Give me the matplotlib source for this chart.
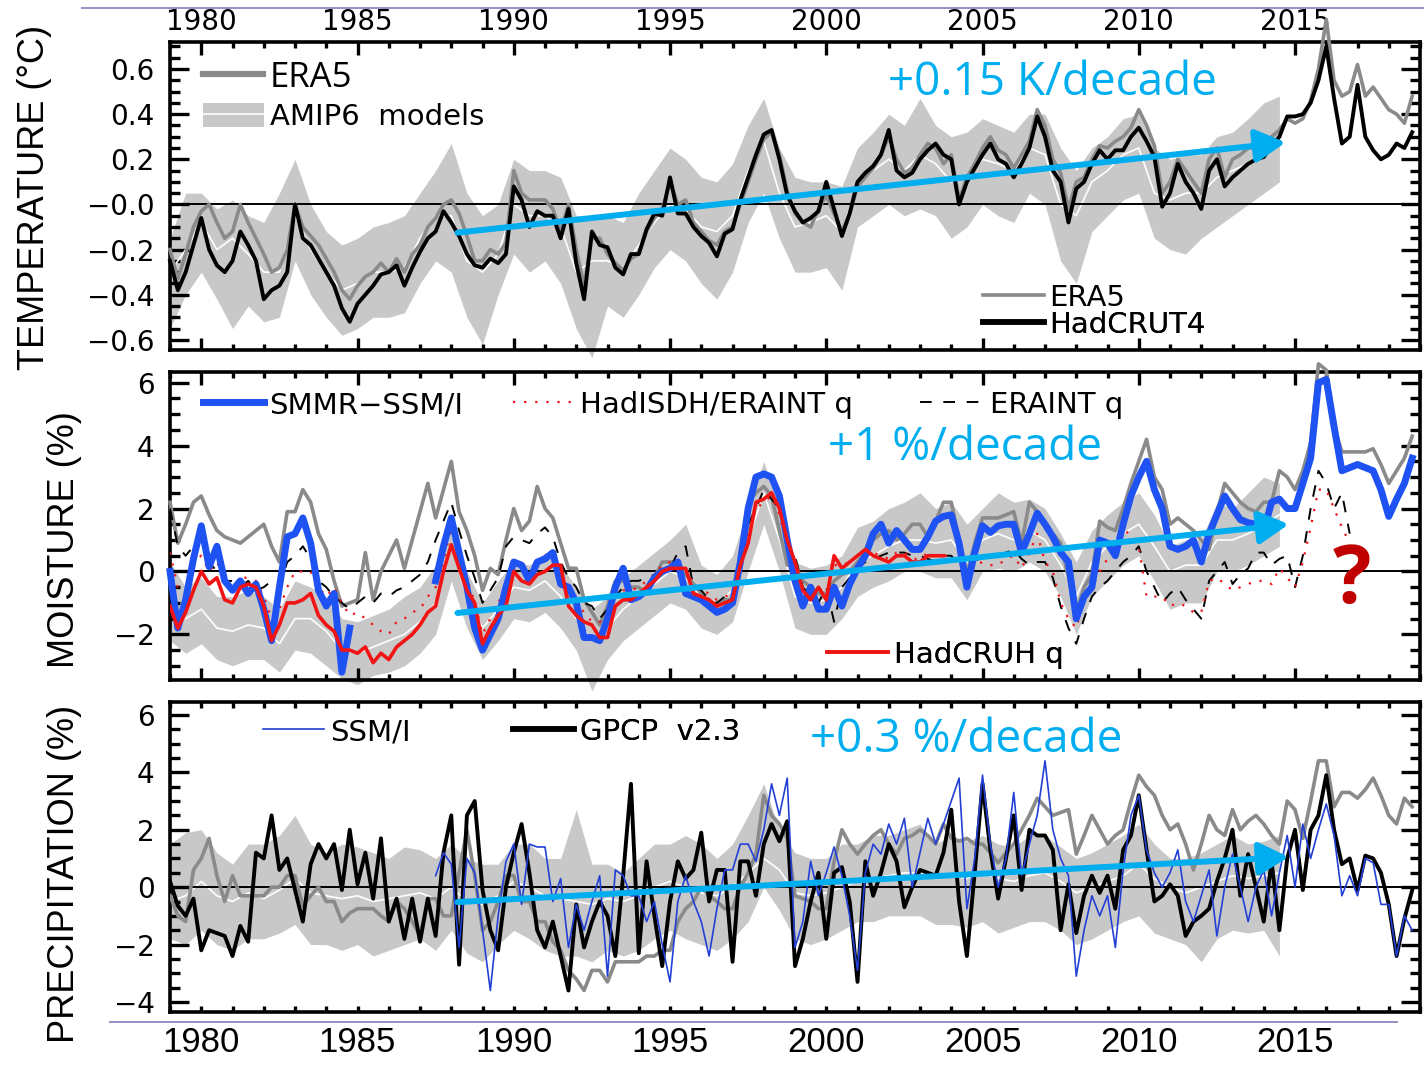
import numpy as np
import matplotlib
matplotlib.use('Agg')
import matplotlib.pyplot as plt
from matplotlib.patches import Patch
from matplotlib.lines import Line2D
from matplotlib.ticker import MultipleLocator, FixedLocator, FixedFormatter

nan = np.nan

# ---------------------------------------------------------------- time axes
t_q = np.arange(1979.0, 2019.0, 0.25)      # quarterly, 1979-2018
t_h = np.arange(1979.0, 2015.0, 0.5)       # half-yearly, AMIP6 runs (to 2014)
t_eri = np.arange(1979.0, 2017.0, 0.25)    # ERAINT / HadISDH
t_cruh = np.arange(1979.0, 2004.0, 0.25)   # HadCRUH
t_ssmi = np.arange(1987.5, 2019.0, 0.25)   # SSM/I precipitation

# ---------------------------------------------------------------- temperature (K)
temp_era5 = [
    -0.20, -0.33, -0.22, -0.10,  -0.03, 0.00, -0.08, -0.15,  -0.12, 0.00, -0.08, -0.15,
    -0.22, -0.30, -0.28, -0.20,  0.00, -0.10, -0.14, -0.18,  -0.24, -0.30, -0.38, -0.42,
    -0.36, -0.32, -0.30, -0.26,  -0.30, -0.24, -0.30, -0.22,  -0.18, -0.10, -0.06, 0.00,
    0.02, -0.04, -0.14, -0.25,  -0.25, -0.20, -0.22, -0.17,  0.15, 0.05, 0.02, 0.02,
    0.02, -0.02, -0.12, 0.00,  -0.20, -0.36, -0.15, -0.15,  -0.22, -0.26, -0.29, -0.24,
    -0.22, -0.12, -0.06, -0.02,  0.10, 0.00, 0.02, -0.08,  -0.12, -0.16, -0.18, -0.12,
    -0.10, 0.00, 0.10, 0.20,  0.29, 0.32, 0.22, 0.06,  -0.04, -0.08, -0.10, -0.02,
    0.04, -0.04, -0.12, -0.04,  0.08, 0.12, 0.16, 0.22,  0.30, 0.20, 0.14, 0.16,
    0.22, 0.27, 0.25, 0.18,  0.22, 0.02, 0.12, 0.18,  0.25, 0.30, 0.24, 0.22,
    0.16, 0.22, 0.28, 0.42,  0.35, 0.20, 0.14, -0.02,  0.10, 0.12, 0.20, 0.26,
    0.25, 0.28, 0.30, 0.34,  0.42, 0.35, 0.26, 0.05,  0.10, 0.20, 0.15, 0.10,
    0.05, 0.20, 0.25, 0.12,  0.20, 0.22, 0.25, 0.25,  0.26, 0.30, 0.33, 0.38,
    0.36, 0.38, 0.46, 0.60,  0.82, 0.55, 0.48, 0.50,  0.62, 0.48, 0.52, 0.47,
    0.42, 0.40, 0.36, 0.48,
]
temp_hadcrut4 = [
    -0.25, -0.38, -0.30, -0.18,  -0.06, -0.20, -0.27, -0.30,  -0.25, -0.12, -0.18, -0.25,
    -0.42, -0.38, -0.36, -0.30,  0.00, -0.15, -0.18, -0.24,  -0.30, -0.36, -0.46, -0.52,
    -0.44, -0.40, -0.36, -0.31,  -0.30, -0.27, -0.36, -0.28,  -0.21, -0.15, -0.12, -0.03,
    -0.08, -0.14, -0.22, -0.27,  -0.28, -0.24, -0.26, -0.22,  0.08, 0.02, -0.10, -0.03,
    -0.05, -0.05, -0.15, -0.02,  -0.26, -0.42, -0.12, -0.18,  -0.19, -0.28, -0.31, -0.22,
    -0.22, -0.11, -0.04, -0.05,  0.12, -0.04, -0.04, -0.10,  -0.14, -0.17, -0.23, -0.13,
    -0.11, 0.02, 0.12, 0.22,  0.31, 0.33, 0.20, 0.04,  -0.03, -0.08, -0.06, -0.03,
    0.10, -0.02, -0.14, -0.04,  0.10, 0.14, 0.17, 0.22,  0.33, 0.15, 0.12, 0.14,
    0.20, 0.24, 0.27, 0.22,  0.20, 0.00, 0.10, 0.16,  0.22, 0.27, 0.20, 0.18,
    0.12, 0.18, 0.25, 0.39,  0.30, 0.15, 0.10, -0.08,  0.07, 0.10, 0.18, 0.24,
    0.20, 0.24, 0.24, 0.30,  0.34, 0.28, 0.21, -0.01,  0.05, 0.18, 0.10, 0.05,
    -0.02, 0.15, 0.20, 0.08,  0.12, 0.15, 0.18, 0.20,  0.21, 0.26, 0.30, 0.39,
    0.39, 0.40, 0.45, 0.55,  0.70, 0.47, 0.27, 0.30,  0.53, 0.30, 0.24, 0.20,
    0.22, 0.27, 0.25, 0.32,
]
temp_amip_mean = [
    -0.30, -0.20, -0.08, -0.20, -0.15, -0.22, -0.30, -0.30, -0.05, -0.20, -0.30, -0.38,
    -0.35, -0.30, -0.30, -0.28, -0.15, -0.05, -0.05, -0.25, -0.30, -0.22, 0.00, -0.05,
    -0.05, -0.10, -0.30, -0.25, -0.25, -0.28, -0.18, -0.08, 0.00, -0.02, -0.10, -0.12,
    -0.05, 0.15, 0.28, 0.05, -0.10, -0.08, -0.05, -0.12, 0.08, 0.15, 0.20, 0.15,
    0.22, 0.18, 0.10, 0.12, 0.20, 0.18, 0.15, 0.25, 0.22, 0.00, -0.05, 0.10,
    0.15, 0.22, 0.25, 0.05, 0.02, 0.05, 0.05, 0.12, 0.15, 0.18, 0.25, 0.30,
]
temp_amip_hi = [
    -0.15, 0.05, 0.05, -0.02, 0.02, -0.05, -0.08, 0.05, 0.20, 0.00, -0.12, -0.18,
    -0.15, -0.10, -0.08, -0.05, 0.05, 0.15, 0.27, 0.05, -0.05, 0.00, 0.20, 0.15,
    0.15, 0.12, -0.05, -0.05, -0.05, -0.08, 0.05, 0.15, 0.25, 0.20, 0.12, 0.10,
    0.18, 0.35, 0.47, 0.25, 0.12, 0.10, 0.10, 0.08, 0.25, 0.32, 0.40, 0.35,
    0.47, 0.35, 0.30, 0.32, 0.38, 0.35, 0.32, 0.40, 0.40, 0.25, 0.15, 0.25,
    0.30, 0.38, 0.40, 0.25, 0.20, 0.22, 0.22, 0.30, 0.32, 0.38, 0.45, 0.48,
]
temp_amip_lo = [
    -0.55, -0.40, -0.30, -0.42, -0.55, -0.45, -0.52, -0.50, -0.25, -0.40, -0.50, -0.58,
    -0.55, -0.50, -0.50, -0.48, -0.35, -0.25, -0.30, -0.50, -0.62, -0.40, -0.22, -0.30,
    -0.25, -0.35, -0.55, -0.68, -0.45, -0.50, -0.40, -0.28, -0.20, -0.25, -0.35, -0.42,
    -0.30, -0.08, 0.05, -0.15, -0.30, -0.30, -0.28, -0.38, -0.10, -0.05, 0.00, -0.05,
    -0.02, -0.05, -0.15, -0.10, 0.00, -0.05, -0.08, 0.05, 0.00, -0.25, -0.35, -0.12,
    -0.05, 0.02, 0.05, -0.15, -0.20, -0.22, -0.15, -0.10, -0.05, 0.00, 0.05, 0.10,
]
temp_yticks = [-0.6, -0.4, -0.2, 0.0, 0.2, 0.4, 0.6]
temp_ylabels = ['\u22120.6', '\u22120.4', '\u22120.2', '\u22120.0', '0.2', '0.4', '0.6']
temp_trend = (1988.2, -0.125, 2014.7, 0.275)

# ---------------------------------------------------------------- moisture (%)
moist_smmr_ssmi = [
    0.0, -1.8, -0.9, 0.4,  1.45, 0.15, 0.8, -0.3,  -0.6, -0.3, -0.7, -0.4,
    -1.2, -2.2, -0.5, 1.1,  1.2, 1.7, 0.9, -0.6,  -1.1, -0.7, -3.2, -1.8,
    nan, nan, nan, nan,  nan, nan, nan, nan,  nan, nan, -0.3, 0.8,
    1.7, 0.6, -0.5, -1.8,  -2.5, -2.0, -1.5, -0.5,  0.3, 0.2, -0.3, 0.3,
    0.4, 0.6, -0.4, -0.5,  -1.0, -2.1, -2.1, -2.2,  -1.5, -0.5, 0.1, -0.9,
    -0.8, -0.6, -0.2, 0.0,  0.1, 0.3, -0.7, -0.8,  -0.9, -1.1, -1.3, -1.2,
    -1.0, 0.3, 2.0, 3.0,  3.1, 3.0, 2.4, 1.0,  -0.3, -1.1, -0.5, -1.2,
    -1.2, -0.5, -1.1, -0.4,  0.1, 0.5, 1.2, 1.5,  0.9, 1.3, 1.0, 0.7,
    0.7, 1.1, 1.6, 1.75,  1.8, 0.9, -0.5, 0.6,  1.45, 1.24, 1.45, 1.5,
    1.5, 0.6, 1.2, 1.85,  1.5, 1.1, 0.6, 0.3,  -1.5, -0.8, -0.5, 1.0,
    0.9, 0.5, 1.5, 2.4,  3.0, 3.5, 2.6, 2.0,  0.8, 0.7, 0.8, 1.0,
    0.3, 1.2, 1.8, 2.4,  2.0, 1.65, 1.55, 1.5,  1.3, 2.2, 2.3, 2.0,
    2.0, 2.8, 3.6, 6.0,  6.1, 4.6, 3.2, 3.3,  3.4, 3.3, 3.2, 2.6,
    1.75, 2.3, 2.8, 3.6,
]
moist_era5 = [
    2.2, 0.9, 1.5, 2.2,  2.4, 1.8, 1.3, 1.1,  1.0, 0.9, 1.1, 1.3,
    1.5, 0.8, 0.3, 1.9,  1.9, 2.6, 2.2, 1.2,  0.7, -0.3, -1.1, -1.0,
    -0.9, 0.6, -0.9, 0.0,  0.5, 1.0, 0.1, 1.0,  1.9, 2.8, 1.7, 2.6,
    3.5, 1.9, 1.3, 0.5,  -0.6, 0.1, -0.1, 1.0,  2.0, 1.3, 1.6, 2.7,
    2.0, 1.7, 0.9, 0.1,  0.1, -0.9, -1.3, -1.7,  -1.1, -0.3, -0.3, -0.5,
    -0.5, -0.7, -0.2, 0.3,  0.3, 0.3, -0.1, -0.4,  -0.7, -1.1, -1.1, -0.9,
    -0.9, 0.3, 2.2, 2.5,  2.7, 2.4, 1.3, 0.2,  0.2, -0.3, -0.5, -0.7,
    -0.7, -0.3, -0.1, 0.0,  0.3, 0.6, 1.0, 1.2,  1.3, 1.0, 1.2, 1.5,
    1.5, 1.1, 1.6, 2.2,  2.2, 1.0, -0.1, 0.9,  1.7, 1.7, 1.7, 1.8,
    1.9, 0.9, 2.2, 1.9,  1.5, 1.2, 0.9, -0.2,  -1.3, -0.5, -0.1, 1.6,
    1.4, 1.3, 2.0, 2.8,  3.5, 4.2, 3.0, 2.6,  1.5, 1.7, 1.5, 1.3,
    1.0, 0.7, 1.85, 2.8,  2.5, 2.2, 2.0, 1.9,  2.2, 2.2, 3.2, 3.0,
    2.6, 3.2, 4.1, 6.6,  6.4, 4.6, 3.8, 3.8,  3.8, 3.8, 3.9, 3.4,
    2.8, 3.2, 3.6, 4.3,
]
moist_eraint = [
    2.0, 0.8, 0.5, 0.8,  1.0, 0.3, 0.0, -0.3,  -0.3, -0.5, -0.3, -0.6,
    -0.5, -0.3, -0.5, 0.3,  0.5, 0.8, 0.4, -0.3,  -0.5, -0.8, -1.0, -1.2,
    -1.0, -0.8, -1.0, -0.7,  -0.8, -0.6, -0.5, -0.3,  -0.1, 0.3, 1.0, 1.6,
    2.2, 1.3, 0.5, -0.2,  -1.0, -0.6, -0.2, 0.8,  1.1, 1.0, 0.9, 1.2,
    1.4, 1.1, 0.3, -0.2,  -0.5, -1.0, -1.1, -1.5,  -1.2, -0.8, -0.5, -0.3,
    -0.3, -0.2, -0.1, 0.1,  0.1, 0.6, 0.8, -0.5,  -0.6, -0.9, -1.0, -0.8,
    -0.8, 0.3, 1.5, 2.0,  2.6, 2.3, 2.0, 1.0,  0.5, -0.5, -0.8, -1.0,
    -0.5, -1.6, -0.5, -0.2,  0.1, 0.3, 0.4, 0.5,  0.6, 0.6, 0.6, 0.5,
    0.5, 0.4, 0.3, 0.5,  0.5, 0.2, 0.0, 0.3,  0.5, 0.5, 0.5, 0.6,
    0.7, 0.4, 0.2, 0.3,  0.3, -0.2, -1.1, -1.8,  -2.3, -1.5, -0.8, -0.5,
    -0.3, 0.0, 0.3, 0.5,  0.8, 0.0, -0.5, -1.0,  -0.7, -0.5, -0.9, -1.2,
    -1.5, -0.3, 0.0, 0.3,  -0.4, -0.1, 0.1, 0.6,  0.6, 0.2, 0.4, 0.5,
    -0.5, 0.5, 2.0, 3.2,  2.8, 2.0, 2.5, 1.2,
]
moist_hadisdh = [
    0.6, -0.5, -0.5, 0.3,  0.5, 0.0, 0.3, -0.2,  -0.5, -0.2, -0.2, -0.3,
    -0.8, -1.5, -1.2, -0.5,  0.0, 0.0, 0.0, -0.5,  -0.8, -0.5, -1.0, -1.4,
    -1.3, -1.5, -1.7, -1.9,  -2.0, -1.6, -1.5, -1.3,  -1.2, -0.8, -0.5, 0.3,
    1.4, 0.5, -0.2, -1.0,  -2.0, -1.5, -1.0, -0.5,  0.3, 0.0, 0.0, 0.2,
    0.4, 0.5, 0.0, -0.9,  -1.0, -1.3, -1.6, -1.6,  -1.6, -0.8, -0.6, -0.6,
    -0.5, -0.3, -0.1, 0.2,  0.3, 0.4, 0.1, -0.4,  -0.6, -0.7, -0.9, -0.8,
    -0.7, 0.3, 1.2, 2.0,  2.2, 2.4, 1.8, 0.8,  0.2, -0.5, -0.7, -0.5,
    -0.8, 0.2, 0.2, 0.3,  0.5, 0.6, 0.6, 0.5,  0.4, 0.6, 0.6, 0.4,
    0.4, 0.6, 0.5, 0.5,  0.5, 0.2, 0.0, 0.2,  0.3, 0.2, 0.2, 0.4,
    0.5, 0.1, 0.6, 1.2,  0.3, 0.0, -1.0, -1.5,  -1.8, -0.9, -0.5, 0.0,
    0.4, 0.9, 1.4, 1.1,  0.8, -0.8, -0.8, -0.8,  -1.1, -1.0, -1.1, -1.3,
    -1.3, -0.3, -0.2, -0.4,  -0.6, -0.5, -0.4, -0.3,  -0.3, -0.4, 0.1, -0.2,
    -0.5, 0.3, 1.4, 2.6,  2.6, 2.0, 1.4, 0.9,
]
moist_hadcruh = [
    -1.1, -1.8, -1.3, -0.6,  0.0, -0.4, -0.2, -0.9,  -1.0, -0.5, -0.4, -0.5,
    -1.1, -2.2, -1.7, -1.0,  -1.0, -0.9, -0.7, -1.4,  -1.7, -1.9, -2.5, -2.5,
    -2.6, -2.4, -2.9, -2.6,  -2.8, -2.4, -2.2, -2.0,  -1.7, -1.3, -1.1, 0.0,
    0.85, 0.1, -0.6, -1.0,  -2.3, -1.8, -1.4, -1.1,  0.0, -0.3, -0.4, -0.1,
    0.0, 0.2, 0.2, -1.1,  -1.4, -1.6, -1.7, -2.1,  -2.1, -1.1, -0.9, -0.9,
    -0.7, -0.5, -0.3, 0.0,  0.1, 0.1, 0.1, -0.7,  -0.8, -0.9, -1.1, -1.0,
    -0.9, 0.2, 0.9, 2.2,  2.3, 2.5, 2.0, 1.0,  0.3, -0.6, -0.9, -0.5,
    -0.9, 0.5, 0.1, 0.3,  0.5, 0.7, 0.5, 0.4,  0.3, 0.5, 0.5, 0.3,
    0.3, 0.5, 0.5, 0.5,
]
moist_amip_mean = [
    -1.0, -1.5, -1.2, -1.8, -1.9, -1.7, -1.8, -2.3, -1.5, -1.5, -1.9, -2.5,
    -2.6, -2.4, -2.2, -2.0, -1.6, -1.0, 0.8, -0.8, -1.8, -1.2, -0.5, -0.6,
    -0.3, -0.8, -1.5, -2.2, -1.8, -1.2, -0.8, -0.4, 0.0, -0.2, -0.8, -1.0,
    -0.6, 1.0, 2.5, 1.0, -0.8, -1.0, -0.9, -0.5, 0.3, 0.5, 0.8, 1.0,
    1.0, 0.9, 1.0, 0.3, 1.0, 1.2, 1.0, 1.3, 1.0, 0.2, -0.8, 0.3,
    0.8, 1.2, 1.5, 0.8, 0.0, 0.2, 0.2, 1.0, 1.0, 1.2, 1.5, 1.8,
]
moist_amip_hi = [
    0.3, -0.5, -0.2, -0.8, -0.8, -0.6, -0.8, -1.2, -0.3, -0.5, -0.8, -1.5,
    -1.6, -1.4, -1.2, -0.8, -0.5, 0.2, 1.5, 0.0, -1.0, -0.3, 0.3, 0.2,
    0.6, 0.2, -0.5, -1.2, -0.8, -0.2, 0.2, 0.6, 1.0, 1.5, 0.2, -0.1,
    0.5, 2.0, 3.5, 2.0, 0.3, 0.1, 0.2, 0.5, 1.4, 1.6, 2.0, 2.2,
    2.5, 2.0, 2.2, 1.5, 2.0, 2.5, 2.2, 2.3, 2.0, 1.2, 0.3, 1.3,
    1.8, 2.2, 2.5, 1.8, 0.8, 1.0, 1.0, 2.2, 2.0, 2.5, 3.0, 2.8,
]
moist_amip_lo = [
    -2.2, -2.6, -2.3, -2.8, -3.0, -2.8, -2.8, -3.2, -2.5, -2.6, -3.0, -3.4,
    -3.6, -3.3, -3.2, -3.0, -2.6, -2.0, -0.3, -1.8, -2.8, -2.2, -1.5, -1.6,
    -1.3, -1.8, -2.5, -3.8, -2.8, -2.2, -1.8, -1.4, -1.0, -1.2, -1.8, -2.0,
    -1.6, 0.0, 1.5, 0.0, -1.8, -2.0, -2.0, -1.5, -0.8, -0.5, -0.3, 0.0,
    0.0, -0.2, -0.2, -0.9, 0.0, 0.1, 0.0, 0.3, 0.0, -0.8, -2.0, -0.8,
    -0.3, 0.2, 0.5, -0.3, -1.2, -1.0, -1.0, 0.0, 0.0, 0.2, 0.5, 0.8,
]
moist_yticks = [-2, 0, 2, 4, 6]
moist_ylabels = ['\u22122', '0', '2', '4', '6']
moist_trend = (1988.2, -1.32, 2014.8, 1.5)

# ---------------------------------------------------------------- precipitation (%)
prec_gpcp = [
    0.2, -0.65, -1.0, -0.4,  -2.2, -1.5, -1.6, -1.7,  -2.4, -1.35, -1.9, 1.2,
    1.0, 2.5, 0.6, 1.0,  -0.1, -1.2, 0.8, 1.5,  1.0, 1.5, -0.1, 2.0,
    0.1, 1.2, -0.4, 1.7,  -1.2, -0.4, -1.8, -0.4,  -1.9, -0.4, -1.7, 1.2,
    2.5, -2.7, 2.5, 3.0,  -0.1, -1.5, -2.2, 0.0,  1.2, 2.2, 0.5, -1.5,
    -2.1, -1.2, -2.4, -3.6,  -0.6, -2.1, -1.2, -0.5,  -1.0, -2.4, 0.4, 3.6,
    -2.3, 0.9, -1.0, -2.75,  -0.5, 0.9, 0.3, 0.6,  1.9, -0.5, 0.6, 0.6,
    -2.6, 0.9, 0.9, -0.3,  1.5, 2.2, 1.6, 2.3,  -2.75, -1.8, -0.5, 0.5,
    -1.8, 0.5, 0.7, -0.5,  -3.3, 0.9, -0.3, 0.5,  1.5, 0.9, -0.7, 0.0,
    0.6, 0.5, 0.4, 1.2,  2.7, -0.5, -2.4, 0.5,  3.6, 1.3, -0.4, 1.0,
    2.5, -0.1, 2.0, 1.8,  1.8, 1.3, -1.5, 0.1,  -1.6, -0.3, 0.4, -0.2,
    0.4, -0.75, 1.3, 1.8,  3.2, 1.3, -0.5, -0.3,  0.1, -0.3, -1.7, -1.2,
    -1.0, -0.75, 0.2, 1.0,  2.0, -0.3, 1.15, 0.0,  -1.2, 0.9, -1.5, 1.0,
    2.0, -0.1, 2.0, 2.5,  3.9, 2.0, 0.8, 1.0,  -0.1, 1.1, 1.0, 0.5,
    -0.6, -2.4, -1.1, -0.1,
]
prec_era5 = [
    -0.3, -1.0, -1.2, 0.6,  1.0, 1.7, 0.4, -0.5,  0.4, -0.3, -0.3, -0.3,
    -0.3, 0.0, 0.0, 0.4,  0.4, -0.65, -0.3, 0.0,  -0.5, -0.5, -1.2, -0.9,
    -0.75, -0.75, -0.75, -1.0,  -1.2, -0.5, -0.75, -1.2,  -1.7, -0.4, -0.4, -1.0,
    -1.0, 0.5, 2.0, 0.4,  -1.5, -1.2, -0.5, 0.4,  0.4, -0.5, -0.5, -1.2,
    -1.2, -1.9, -2.2, -2.9,  -3.2, -3.6, -2.9, -2.9,  -3.3, -2.6, -2.6, -2.6,
    -2.6, -2.4, -2.4, -2.2,  -2.2, -1.2, -0.75, -0.5,  0.0, -0.3, -0.5, -0.75,
    -0.75, 0.0, 0.5, 1.15,  3.2, 2.5, 2.2, 1.7,  -0.3, -0.4, -0.5, -0.75,
    -0.75, 0.9, 2.0, 1.5,  1.15, 1.5, 1.8, 2.0,  1.5, 1.15, 1.7, 1.8,
    2.0, 1.8, 1.5, 2.2,  1.7, 1.6, 1.7, 1.5,  1.5, 1.2, 0.85, 1.2,
    1.5, 2.0, 2.5, 3.1,  2.8, 2.5, 2.6, 2.7,  1.15, 1.8, 2.5, 2.0,
    1.5, 1.8, 2.0, 3.0,  3.9, 3.5, 3.2, 2.5,  2.0, 2.2, 1.5, 0.6,
    1.5, 2.5, 2.0, 1.8,  2.7, 2.0, 2.3, 2.5,  2.2, 1.8, 1.5, 3.0,
    2.7, 1.7, 3.0, 4.4,  4.4, 2.8, 3.3, 3.3,  3.1, 3.4, 3.8, 3.2,
    2.5, 2.2, 3.1, 2.8,
]
prec_ssmi = [
    0.4, 1.2,
    0.8, -2.1, 1.0, 0.5,  -1.5, -3.6, -1.0, 0.9,  1.5, -0.6, 1.5, 1.4,
    1.4, -0.5, 0.3, -2.1,  -0.6, -1.5, -0.5, 0.4,  -3.1, 0.6, 0.4, -0.3,
    -0.3, -1.2, -0.5, -2.0,  -3.3, -0.5, 0.4, -0.5,  -1.2, -2.4, -0.75, 0.6,
    0.6, 1.5, 1.5, 0.9,  2.0, 3.6, 2.5, 3.8,  -2.1, -1.2, 0.9, -0.3,
    0.5, 1.4, 0.4, -1.0,  -2.9, 0.5, 1.5, 1.15,  2.2, 1.5, 2.4, 0.0,
    1.2, 2.4, 1.5, 2.2,  3.0, 3.8, -0.75, 1.0,  3.9, 1.5, 0.0, 1.0,
    3.3, 0.4, 1.5, 2.5,  4.4, 2.0, 1.0, 0.4,  -3.1, -1.5, -0.3, -1.0,
    -0.3, -2.1, 0.6, 2.5,  3.2, 1.3, 0.5, 0.0,  0.5, 1.3, -0.5, -1.2,
    -0.3, 0.6, -1.7, 0.0,  1.15, 0.0, -1.2, 0.0,  0.6, -1.0, 0.5, 1.8,
    0.0, 2.2, 1.0, 2.0,  2.9, 1.8, -0.3, 0.4,  -0.3, 1.0, 0.85, -0.6,
    -0.6, -2.4, -1.0, -1.5,
]
prec_amip_mean = [
    -0.5, -0.3, 0.2, -0.3, -0.5, -0.2, -0.4, -0.1, 0.3, -0.2, -0.3, -0.4,
    -0.3, -0.5, -0.4, -0.3, -0.2, -0.4, 0.0, -0.5, -0.6, -0.3, 0.2, 0.0,
    -0.3, -0.4, -0.5, -0.6, -0.4, -0.5, -0.3, 0.0, 0.2, 0.0, -0.2, -0.3,
    0.0, 0.5, 1.0, 0.6, -0.2, -0.3, -0.2, 0.0, 0.2, 0.3, 0.4, 0.5,
    0.5, 0.3, 0.4, 0.3, 0.5, 0.3, 0.2, 0.4, 0.5, 0.2, -0.2, 0.0,
    0.2, 0.4, 0.8, 0.3, 0.0, -0.2, 0.0, 0.2, 0.4, 0.3, 0.4, 0.5,
]
prec_amip_hi = [
    1.5, 1.9, 2.0, 1.2, 0.8, 1.5, 1.5, 1.8, 2.5, 1.5, 1.2, 1.5,
    1.4, 1.2, 1.0, 1.4, 1.3, 1.0, 1.5, 1.0, 0.8, 0.8, 1.5, 1.5,
    1.0, 1.0, 2.7, 0.8, 0.8, 0.5, 1.0, 1.5, 1.5, 1.8, 1.5, 1.0,
    1.5, 2.5, 3.6, 2.0, 1.2, 1.0, 1.0, 1.5, 1.5, 1.8, 1.8, 2.0,
    2.2, 1.5, 1.8, 1.6, 1.8, 1.5, 1.4, 1.8, 1.8, 1.4, 1.0, 1.2,
    1.5, 1.8, 2.2, 1.5, 1.0, 1.0, 1.2, 1.5, 1.8, 1.5, 1.6, 1.8,
]
prec_amip_lo = [
    -1.8, -2.0, -1.5, -2.0, -2.2, -1.8, -1.8, -1.6, -1.3, -2.0, -2.0, -2.2,
    -2.0, -2.4, -2.2, -2.0, -1.8, -2.2, -1.5, -2.3, -2.6, -2.0, -1.5, -1.8,
    -2.2, -2.4, -2.4, -2.6, -2.2, -2.4, -2.2, -1.8, -1.5, -1.8, -2.0, -2.2,
    -1.8, -1.2, 0.0, -0.8, -1.8, -2.0, -1.8, -1.5, -1.2, -1.2, -1.0, -1.0,
    -1.0, -1.3, -1.3, -1.4, -1.2, -1.6, -1.4, -1.2, -1.2, -1.5, -2.0, -1.8,
    -1.5, -1.2, -1.0, -1.6, -1.8, -2.0, -2.6, -1.8, -1.5, -1.6, -1.5, -2.4,
]
prec_yticks = [-4, -2, 0, 2, 4, 6]
prec_ylabels = ['\u22124', '\u22122', '0', '2', '4', '6']
prec_trend = (1988.2, -0.52, 2014.8, 1.05)

year_ticks = [1980, 1985, 1990, 1995, 2000, 2005, 2010, 2015]
year_labels = [str(y) for y in year_ticks]

# ---------------------------------------------------------------- style
BAND = '#c8c8c8'
GRAY = '#8a8a8a'
BLUE = '#1f52f2'
BLUE_THIN = '#2340d6'
RED = '#f01414'
TREND = '#00aeef'
NARROW = ['DejaVu Sans Condensed', 'Liberation Sans']
plt.rcParams['font.family'] = 'DejaVu Sans'


def style_axis(ax, ylim, yticks, ylabels, yminor):
    ax.set_xlim(1979, 2019)
    ax.set_ylim(*ylim)
    ax.set_xticks(year_ticks)
    ax.xaxis.set_minor_locator(MultipleLocator(1))
    ax.yaxis.set_major_locator(FixedLocator(yticks))
    ax.yaxis.set_major_formatter(FixedFormatter(ylabels))
    ax.yaxis.set_minor_locator(MultipleLocator(yminor))
    ax.tick_params(which='both', direction='in', top=True, right=True,
                   width=2.4, labelbottom=False, labelsize=20, colors='black')
    ax.tick_params(axis='y', which='major', length=14, pad=11)
    ax.tick_params(axis='y', which='minor', length=7)
    ax.tick_params(axis='x', which='major', length=9)
    ax.tick_params(axis='x', which='minor', length=4)
    for s in ax.spines.values():
        s.set_linewidth(2.6)
    ax.axhline(0, color='black', lw=1.4, zorder=2.5)


def key(ax, handle, label, x, y, size=21, family='DejaVu Sans', hl=2.1):
    leg = ax.legend([handle], [label], loc='center left', bbox_to_anchor=(x, y),
                    frameon=False, handlelength=hl, handletextpad=0.2,
                    handleheight=0.9, borderpad=0, borderaxespad=0,
                    prop={'family': family, 'size': size})
    ax.add_artist(leg)


def trend(ax, tr, label, tx, ty):
    ax.annotate('', xy=(tr[2], tr[3]), xytext=(tr[0], tr[1]), zorder=8,
                arrowprops=dict(arrowstyle='-|>,head_length=1.0,head_width=0.55',
                                color=TREND, lw=4.3, mutation_scale=18,
                                shrinkA=0, shrinkB=0))
    ax.text(tx, ty, label, transform=ax.transAxes, color=TREND, fontsize=33,
            family='Open Sans', ha='left', va='center', zorder=9)


fig = plt.figure(figsize=(14.24, 10.68), dpi=100)
fig.patch.set_facecolor('white')
ax1 = fig.add_axes([0.1194, 0.6723, 0.8778, 0.2884])
ax2 = fig.add_axes([0.1194, 0.3633, 0.8778, 0.2884])
ax3 = fig.add_axes([0.1194, 0.0524, 0.8778, 0.2903])

# ---- temperature
ax1.fill_between(t_h, temp_amip_lo, temp_amip_hi, color=BAND, lw=0, zorder=1, clip_on=False)
ax1.plot(t_h, temp_amip_mean, color='white', lw=1.2, zorder=2)
ax1.plot(t_q, temp_era5, color=GRAY, lw=2.6, zorder=3, clip_on=False)
ax1.plot(t_q, temp_hadcrut4, color='black', lw=2.8, zorder=4, clip_on=False)
style_axis(ax1, (-0.645, 0.72), temp_yticks, temp_ylabels, 0.05)
ax1.tick_params(axis='x', labeltop=True, pad=4)
ax1.set_xticklabels(year_labels, fontsize=20)
key(ax1, Line2D([], [], color=GRAY, lw=4.5), 'ERA5', 0.026, 0.883,
    size=25, family='Open Sans', hl=1.73)
key(ax1, (Patch(facecolor=BAND, edgecolor='none'), Line2D([], [], color='white', lw=1.2)),
    'AMIP6  models', 0.026, 0.756)
key(ax1, Line2D([], [], color=GRAY, lw=2.6), 'ERA5', 0.650, 0.169)
key(ax1, Line2D([], [], color='black', lw=4), 'HadCRUT4', 0.650, 0.081)
trend(ax1, temp_trend, '+0.15 K/decade', 0.574, 0.867)

# ---- moisture
ax2.fill_between(t_h, moist_amip_lo, moist_amip_hi, color=BAND, lw=0, zorder=1, clip_on=False)
ax2.plot(t_h, moist_amip_mean, color='white', lw=1.2, zorder=2)
ax2.plot(t_q, moist_era5, color=GRAY, lw=2.6, zorder=3, clip_on=False)
l_ei, = ax2.plot(t_eri, moist_eraint, color='black', lw=1.4, ls=(0, (6, 6)), zorder=4)
l_hi, = ax2.plot(t_eri, moist_hadisdh, color=RED, lw=1.6, ls=(0, (1, 4)), zorder=4)
l_sm, = ax2.plot(t_q, moist_smmr_ssmi, color=BLUE, lw=5, zorder=5, clip_on=False)
l_cr, = ax2.plot(t_cruh, moist_hadcruh, color=RED, lw=2.6, zorder=6)
style_axis(ax2, (-3.45, 6.34), moist_yticks, moist_ylabels, 0.5)
key(ax2, l_sm, 'SMMR\u2212SSM/I', 0.026, 0.893)
key(ax2, l_hi, 'HadISDH/ERAINT q', 0.274, 0.893)
key(ax2, l_ei, 'ERAINT q', 0.600, 0.893, hl=2.2)
key(ax2, l_cr, 'HadCRUH q', 0.5256, 0.081)
trend(ax2, moist_trend, '+1 %/decade', 0.526, 0.753)
ax2.text(0.9456, 0.318, '?', transform=ax2.transAxes, color='#c00000',
         fontsize=58, fontweight='bold', family='Open Sans', ha='center', va='center')

# ---- precipitation
ax3.fill_between(t_h, prec_amip_lo, prec_amip_hi, color=BAND, lw=0, zorder=1)
ax3.plot(t_h, prec_amip_mean, color='white', lw=1.2, zorder=2)
ax3.plot(t_q, prec_era5, color=GRAY, lw=2.6, zorder=3)
l_gp, = ax3.plot(t_q, prec_gpcp, color='black', lw=2.8, zorder=4)
l_ss, = ax3.plot(t_ssmi, prec_ssmi, color=BLUE_THIN, lw=1.2, zorder=5)
style_axis(ax3, (-4.35, 6.45), prec_yticks, prec_ylabels, 0.5)
ax3.tick_params(axis='x', which='major', length=4, labelbottom=True, pad=10)
ax3.set_xticklabels(year_labels, fontsize=25, family=NARROW)
key(ax3, l_ss, 'SSM/I', 0.0744, 0.903)
key(ax3, Line2D([], [], color='black', lw=4), 'GPCP  v2.3', 0.274, 0.903)
trend(ax3, prec_trend, '+0.3 %/decade', 0.512, 0.877)

# ---- panel titles and frame lines
fig.text(35 / 1424, 1 - 197 / 1068, 'TEMPERATURE (\u00b0C)', rotation=90, fontsize=26,
         family=NARROW, ha='center', va='center')
fig.text(65 / 1424, 1 - 540 / 1068, 'MOISTURE (%)', rotation=90, fontsize=26,
         family=NARROW, ha='center', va='center')
fig.text(65 / 1424, 1 - 874 / 1068, 'PRECIPITATION (%)', rotation=90, fontsize=26,
         family=NARROW, ha='center', va='center')
fig.add_artist(Line2D([0.0576, 1.0], [0.9925, 0.9925], color='#9a8cc4', lw=1.4,
                      transform=fig.transFigure))
fig.add_artist(Line2D([0.077, 0.981], [0.0431, 0.0431], color='#9a8cc4', lw=1.4,
                      transform=fig.transFigure))

fig.savefig('out.png', dpi=100, facecolor='white')
